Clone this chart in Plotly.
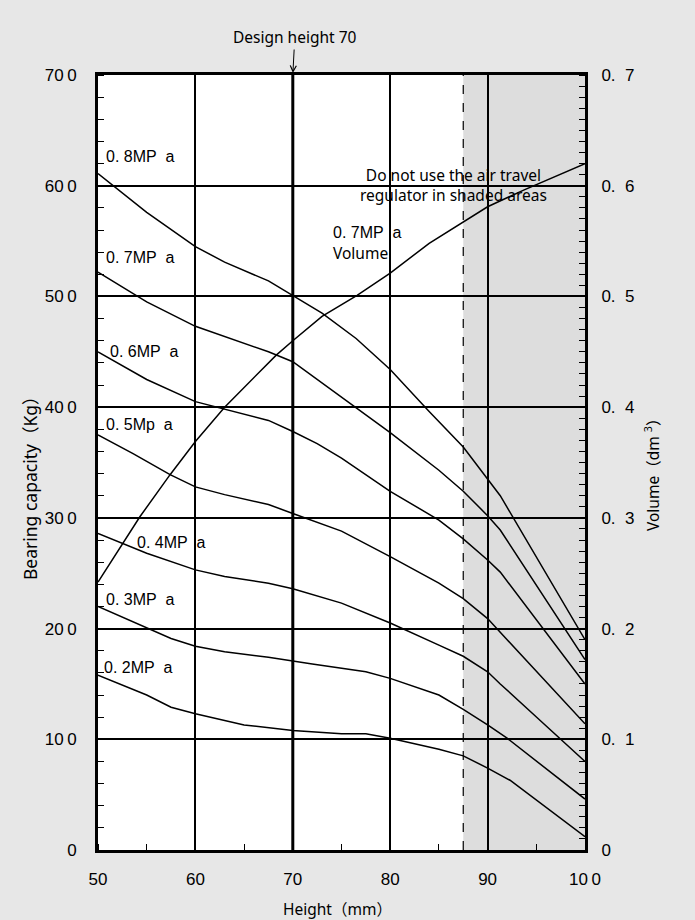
import plotly.graph_objects as go

# ---------------- data ----------------
x_08 = [50, 55, 60, 63, 67.5, 70, 73, 76.5, 80, 84, 87.5, 91.3, 100]
y_08 = [611, 576, 545, 531, 514, 501, 485, 462, 434, 396, 364, 320, 190]

x_07 = [50, 55, 60, 63, 67.5, 70, 75, 80, 85, 87.5, 90, 91.3, 100]
y_07 = [522, 495, 473, 464, 450, 441, 409, 377, 343, 324, 302, 289, 172]

x_06 = [50, 55, 60, 63, 67.5, 70, 72.5, 75, 80, 85, 87.5, 90, 91.3, 100]
y_06 = [450, 425, 405, 398, 388, 378, 367, 354, 324, 298, 281, 262, 251, 150]

x_05 = [50, 53.6, 57.4, 60, 63, 67.5, 70, 75, 80, 85, 87.5, 90, 100]
y_05 = [375, 358, 339, 328, 321, 312, 304, 288, 265, 241, 227, 209, 114]

x_04 = [50, 55, 60, 63, 67.5, 70, 75, 80, 85, 87.5, 90, 91.3, 95.4, 100]
y_04 = [286, 268, 253, 247, 241, 236, 223, 205, 185, 175, 161, 150, 117, 80]

x_03 = [50, 55, 57.5, 60, 63, 67.5, 70, 72, 77.5, 80, 85, 87.5, 90, 92, 100]
y_03 = [220, 201, 191, 184, 179, 174, 171, 168, 161, 155, 140, 127, 113, 101, 46]

x_02 = [50, 55, 57.5, 60, 65, 70, 75, 77.5, 80, 85, 87.5, 90, 92.3, 100]
y_02 = [158, 140, 129, 123, 113, 108, 105, 105, 101, 91, 85, 74, 63, 12]

x_vol = [50, 52.5, 54.3, 57.4, 60, 63, 68.3, 70, 73, 76.6, 80, 84, 87.5, 90, 93.7, 100]
y_vol = [0.242, 0.277, 0.301, 0.339, 0.369, 0.400, 0.447, 0.460, 0.482, 0.501, 0.521, 0.548, 0.567, 0.581, 0.596, 0.620]

series = [(x_08, y_08), (x_07, y_07), (x_06, y_06), (x_05, y_05),
          (x_04, y_04), (x_03, y_03), (x_02, y_02)]

curve_labels = ["0. 8MP\u00a0\u00a0a", "0. 7MP\u00a0\u00a0a", "0. 6MP\u00a0\u00a0a", "0. 5Mp\u00a0\u00a0a",
                "0. 4MP\u00a0\u00a0a", "0. 3MP\u00a0\u00a0a", "0. 2MP\u00a0\u00a0a"]
label_x = [50.6, 50.6, 51.0, 50.6, 53.8, 50.6, 50.4]
label_y = [626, 535, 450, 384, 278, 226, 165]

x_ticks = [50, 60, 70, 80, 90, 100]
x_ticktext = ["50", "60", "70", "80", "90", "10\u20090"]
y_ticks = [0, 100, 200, 300, 400, 500, 600, 700]
y_ticktext = ["0", "10\u20090", "20\u20090", "30\u20090", "40\u20090", "50\u20090", "60\u20090", "70\u20090"]
y2_ticks = [0, 0.1, 0.2, 0.3, 0.4, 0.5, 0.6, 0.7]
y2_ticktext = ["0", "0.\u00a0\u00a01", "0.\u00a0\u00a02", "0.\u00a0\u00a03", "0.\u00a0\u00a04",
               "0.\u00a0\u00a05", "0.\u00a0\u00a06", "0.\u00a0\u00a07"]

design_height = 70
shade_start = 87.5

# ---------------- figure ----------------
fig = go.Figure()
for xs, ys in series:
    fig.add_trace(go.Scatter(x=xs, y=ys, mode="lines",
                             line=dict(color="black", width=1.5),
                             showlegend=False, hoverinfo="skip"))
fig.add_trace(go.Scatter(x=x_vol, y=y_vol, mode="lines", yaxis="y2",
                         line=dict(color="black", width=1.5),
                         showlegend=False, hoverinfo="skip"))

tick_font = dict(family="Liberation Sans, DejaVu Sans", size=17, color="black")
lbl_font = dict(family="Liberation Sans, DejaVu Sans", size=16, color="black")
note_font = dict(family="Noto Sans, Noto Sans CJK SC", size=15.5, color="black")

fig.update_layout(
    width=695, height=920,
    paper_bgcolor="#e7e7e7", plot_bgcolor="white",
    margin=dict(l=98, r=110, t=75, b=70),
    xaxis=dict(range=[50, 100], tickvals=x_ticks, ticktext=x_ticktext,
               showgrid=True, gridcolor="black", gridwidth=1.5,
               showline=True, linecolor="black", linewidth=3, mirror=True,
               ticks="", tickfont=tick_font, ticklabelstandoff=12,
               minor=dict(dtick=5, tick0=50, ticks="inside", ticklen=6,
                          tickcolor="black", tickwidth=1, showgrid=False),
               zeroline=False),
    yaxis=dict(range=[0, 700], tickvals=y_ticks, ticktext=y_ticktext,
               showgrid=True, gridcolor="black", gridwidth=1.5,
               showline=True, linecolor="black", linewidth=3, mirror=True,
               ticks="", tickfont=tick_font, ticklabelstandoff=15,
               minor=dict(dtick=20, tick0=0, ticks="inside", ticklen=6,
                          tickcolor="black", tickwidth=1, showgrid=False),
               zeroline=False),
    yaxis2=dict(range=[0, 0.7], overlaying="y", side="right",
                tickvals=y2_ticks, ticktext=y2_ticktext,
                showgrid=False, showline=True, linecolor="black", linewidth=3,
                ticks="", tickfont=tick_font, ticklabelstandoff=10,
                minor=dict(dtick=0.01, tick0=0, ticks="inside", ticklen=6,
                           tickcolor="black", tickwidth=1, showgrid=False),
                zeroline=False),
)

# shaded region
fig.add_shape(type="rect", xref="x", yref="y", x0=shade_start, x1=100, y0=0, y1=700,
              fillcolor="#dddddd", line=dict(width=0), layer="below")
# dashed boundary line
fig.add_shape(type="line", xref="x", yref="y", x0=shade_start, x1=shade_start, y0=0, y1=700,
              line=dict(color="black", width=1.2, dash="dash"))
# thick design-height line
fig.add_shape(type="line", xref="x", yref="y", x0=design_height, x1=design_height, y0=0, y1=700,
              line=dict(color="black", width=3))

# curve labels
for t, lx, ly in zip(curve_labels, label_x, label_y):
    fig.add_annotation(x=lx, y=ly, xref="x", yref="y", text=t, showarrow=False,
                       xanchor="left", yanchor="middle", font=lbl_font)

fig.add_annotation(x=73.9, y=558, xref="x", yref="y", text="0. 7MP\u00a0\u00a0a", showarrow=False,
                   xanchor="left", yanchor="middle", font=lbl_font)
fig.add_annotation(x=73.9, y=539, xref="x", yref="y", text="Volume", showarrow=False,
                   xanchor="left", yanchor="middle", font=note_font)

fig.add_annotation(x=86.45, y=601, xref="x", yref="y",
                   text="Do not use the air travel<br>regulator in shaded areas",
                   showarrow=False, xanchor="center", yanchor="middle",
                   font=note_font)

fig.add_annotation(x=design_height, y=700, xref="x", yref="y", text="Design height 70",
                   showarrow=True, arrowhead=5, arrowsize=1.2, arrowwidth=1, arrowcolor="black",
                   ax=2, ay=-38, standoff=2, font=note_font)

# axis titles
pw = 585 - 98
ph = 850 - 75
fig.add_annotation(x=(337 - 98) / pw, y=-(909 - 850) / ph, xref="paper", yref="paper",
                   text="Height（mm）", showarrow=False,
                   xanchor="center", yanchor="middle",
                   font=dict(family="Noto Sans, Noto Sans CJK SC", size=15.5, color="black"))
fig.add_annotation(x=-(98 - 30) / pw, y=(850 - 484) / ph, xref="paper", yref="paper",
                   text="Bearing capacity（Kg）", textangle=-90, showarrow=False,
                   xanchor="center", yanchor="middle",
                   font=dict(family="Noto Sans, Noto Sans CJK SC", size=17.5, color="black"))
fig.add_annotation(x=1 + (652 - 585) / pw, y=(850 - 471) / ph, xref="paper", yref="paper",
                   text="Volume（dm <sup>3</sup>）", textangle=-90, showarrow=False,
                   xanchor="center", yanchor="middle",
                   font=dict(family="Noto Sans, Noto Sans CJK SC", size=15.5, color="black"))

fig.write_html("out.html", config={"displayModeBar": False},
               post_script="document.body.style.margin='0';document.body.style.background='#e7e7e7';")
